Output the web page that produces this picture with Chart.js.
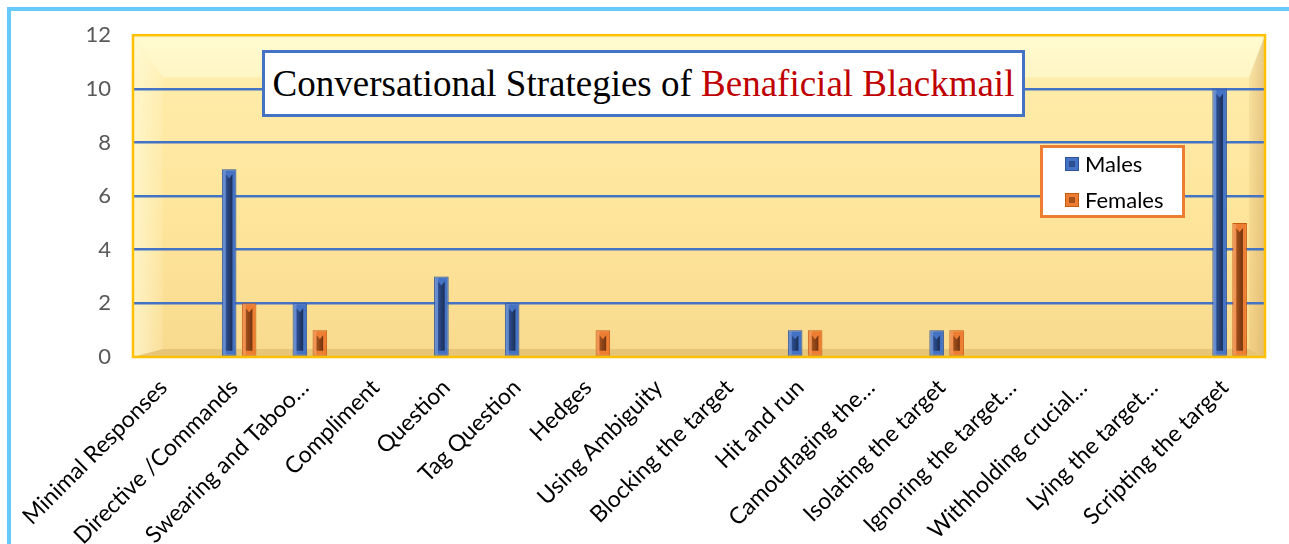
<!DOCTYPE html>
<html>
<head>
<meta charset="utf-8">
<title>Conversational Strategies of Benaficial Blackmail</title>
<script src="https://cdn.jsdelivr.net/npm/chart.js@4.4.1/dist/chart.umd.min.js"></script>
<style>
    html, body { margin: 0; padding: 0; background: #fff; overflow: hidden; }
    #wrap { position: relative; width: 1289px; height: 544px; }
    #frame {
        position: absolute; left: 7px; top: 7px; width: 1320px; height: 580px;
        border-top: 4px solid #66CCFF; border-left: 4px solid #66CCFF;
        pointer-events: none;
    }
    #chartTitle {
        position: absolute; left: 262px; top: 50px; width: 757px; height: 61px;
        border: 3px solid #4472C4; background: #fff;
        font-family: 'Liberation Serif', serif; font-size: 37px; line-height: 61px;
        text-align: center; white-space: nowrap; color: #000;
    }
    #chartTitle .red { color: #C00000; }
    #legendBox {
        position: absolute; left: 1040px; top: 145px; width: 139px; height: 67px;
        border: 3px solid #ED7D31; background: #fff;
        font-family: Lato, sans-serif; font-size: 22px; color: #000;
    }
    .legend-item { position: absolute; left: 22px; height: 24px; line-height: 24px; white-space: nowrap; }
    .legend-mark {
        position: absolute; left: 0; top: 5px; width: 12px; height: 12px; border: 1px solid;
    }
    .legend-text { position: absolute; left: 20px; top: 0; }
</style>
</head>
<body>
<div id="wrap">
    <canvas id="strategyChart" width="1289" height="544"></canvas>
    <div id="frame"></div>
    <div id="chartTitle">Conversational Strategies of <span class="red">Benaficial Blackmail</span></div>
    <div id="legendBox"></div>
</div>
<script>
// Data
const categories = [
    'Minimal Responses', 'Directive /Commands', 'Swearing and Taboo…', 'Compliment',
    'Question', 'Tag Question', 'Hedges', 'Using Ambiguity', 'Blocking the target',
    'Hit and run', 'Camouflaging the…', 'Isolating the target', 'Ignoring the target…',
    'Withholding crucial…', 'Lying the target…', 'Scripting the target'
];
const males   = [0, 7, 2, 0, 3, 2, 0, 0, 0, 1, 0, 1, 0, 0, 0, 10];
const females = [0, 2, 1, 0, 0, 0, 1, 0, 0, 1, 0, 1, 0, 0, 0, 5];
const seriesNames = ['Males', 'Females'];
const yMin = 0, yMax = 12, yStep = 2;

const colors = {
    Males:   { fill: '#4472C4', edge: '#2F5597', dark1: '#2E4F8F', dark2: '#1A2E58' },
    Females: { fill: '#ED7D31', edge: '#C55A11', dark1: '#A3521C', dark2: '#733410' }
};

// Plot area with the bevelled yellow wall
const plotBackground = {
    id: 'plotBackground',
    beforeDraw(chart) {
        const { ctx, chartArea: a } = chart;
        const L = a.left, R = a.right, T = a.top, B = a.bottom;
        ctx.save();
        const g = ctx.createLinearGradient(0, T, 0, B);
        g.addColorStop(0, '#FFF7C4');
        g.addColorStop(0.17, '#FFEBA8');
        g.addColorStop(0.55, '#FEE59B');
        g.addColorStop(1, '#F8DA8E');
        ctx.fillStyle = g;
        ctx.fillRect(L, T, R - L, B - T);

        const bl = 30, bt = 42, br = 16, bb = 8;
        const poly = (pts, fill) => {
            ctx.beginPath();
            ctx.moveTo(pts[0][0], pts[0][1]);
            pts.slice(1).forEach(p => ctx.lineTo(p[0], p[1]));
            ctx.closePath();
            ctx.fillStyle = fill;
            ctx.fill();
        };
        poly([[L, T], [R, T], [R - br, T + bt], [L + bl, T + bt]], 'rgba(255,255,225,0.45)');
        const gl = ctx.createLinearGradient(L, 0, L + bl, 0);
        gl.addColorStop(0, 'rgba(255,250,215,0.75)');
        gl.addColorStop(1, 'rgba(255,250,215,0.15)');
        poly([[L, T], [L + bl, T + bt], [L + bl, B - bb], [L, B]], gl);
        const gr = ctx.createLinearGradient(R - br, 0, R, 0);
        gr.addColorStop(0, 'rgba(205,160,90,0.15)');
        gr.addColorStop(1, 'rgba(205,160,90,0.5)');
        poly([[R, T], [R, B], [R - br, B - bb], [R - br, T + bt]], gr);
        poly([[L, B], [L + bl, B - bb], [R - br, B - bb], [R, B]], 'rgba(190,150,70,0.3)');
        ctx.restore();
    },
    afterDraw(chart) {
        const { ctx, chartArea: a } = chart;
        ctx.save();
        ctx.strokeStyle = '#FFC000';
        ctx.lineWidth = 2.5;
        ctx.strokeRect(a.left, a.top, a.right - a.left, a.bottom - a.top);
        ctx.restore();
    }
};

// Bevel look on each bar: dark inner stripe
const barShade = {
    id: 'barShade',
    afterDatasetsDraw(chart) {
        const ctx = chart.ctx;
        chart.data.datasets.forEach((ds, i) => {
            const c = colors[ds.label];
            chart.getDatasetMeta(i).data.forEach(bar => {
                const p = bar.getProps(['x', 'y', 'base', 'width'], true);
                if (p.base - p.y < 4) return;
                const l = p.x - p.width / 2, r = p.x + p.width / 2;
                ctx.save();
                ctx.fillStyle = 'rgba(255,255,255,0.18)';
                ctx.fillRect(l + 1, p.y + 1, 3, p.base - p.y - 2);
                const g = ctx.createLinearGradient(l + 4, 0, r - 4, 0);
                g.addColorStop(0, c.dark1);
                g.addColorStop(1, c.dark2);
                ctx.fillStyle = g;
                ctx.beginPath();
                ctx.moveTo(l + 4, p.y + 5);
                ctx.lineTo(p.x, p.y + 9);
                ctx.lineTo(r - 4, p.y + 5);
                ctx.lineTo(r - 4, p.base - 5);
                ctx.lineTo(l + 4, p.base - 5);
                ctx.closePath();
                ctx.fill();
                ctx.restore();
            });
        });
    }
};

const datasets = [males, females].map((vals, i) => {
    const c = colors[seriesNames[i]];
    return {
        label: seriesNames[i],
        data: vals,
        backgroundColor: c.fill,
        borderColor: c.edge,
        borderWidth: 1,
        borderSkipped: false,
        categoryPercentage: 0.565,
        barPercentage: 0.73
    };
});

new Chart(document.getElementById('strategyChart'), {
    type: 'bar',
    data: { labels: categories, datasets },
    options: {
        responsive: false,
        animation: false,
        layout: { padding: { top: 34, right: 24, left: 0, bottom: 0 } },
        plugins: { legend: { display: false }, title: { display: false }, tooltip: { enabled: false } },
        scales: {
            x: {
                grid: { display: false, drawTicks: false },
                border: { display: false },
                ticks: {
                    autoSkip: false, minRotation: 45, maxRotation: 45, padding: 17, labelOffset: -5,
                    color: '#000', font: { family: 'Lato', size: 23 }
                },
                afterFit: (scale) => { scale.height = 187; }
            },
            y: {
                min: yMin, max: yMax,
                grid: {
                    drawTicks: false,
                    color: (ctx) => (ctx.tick && (ctx.tick.value === yMin || ctx.tick.value === yMax)) ? 'rgba(0,0,0,0)' : '#4472C4',
                    lineWidth: 2.5
                },
                border: { display: false },
                ticks: {
                    stepSize: yStep, padding: 22,
                    color: '#595959', font: { family: 'Lato', size: 22 }
                },
                afterFit: (scale) => { scale.width = 133; }
            }
        }
    },
    plugins: [plotBackground, barShade]
});

// HTML legend built from the series
const legendBox = document.getElementById('legendBox');
seriesNames.forEach((name, i) => {
    const c = colors[name];
    const item = document.createElement('div');
    item.className = 'legend-item';
    item.style.top = (4 + i * 36) + 'px';
    item.innerHTML = `<span class="legend-mark" style="background:${c.fill};border-color:${c.edge};box-shadow: inset 0 0 0 3px ${c.fill}, inset 0 0 0 12px ${c.dark1}"></span><span class="legend-text">${name}</span>`;
    legendBox.appendChild(item);
});
</script>
</body>
</html>
